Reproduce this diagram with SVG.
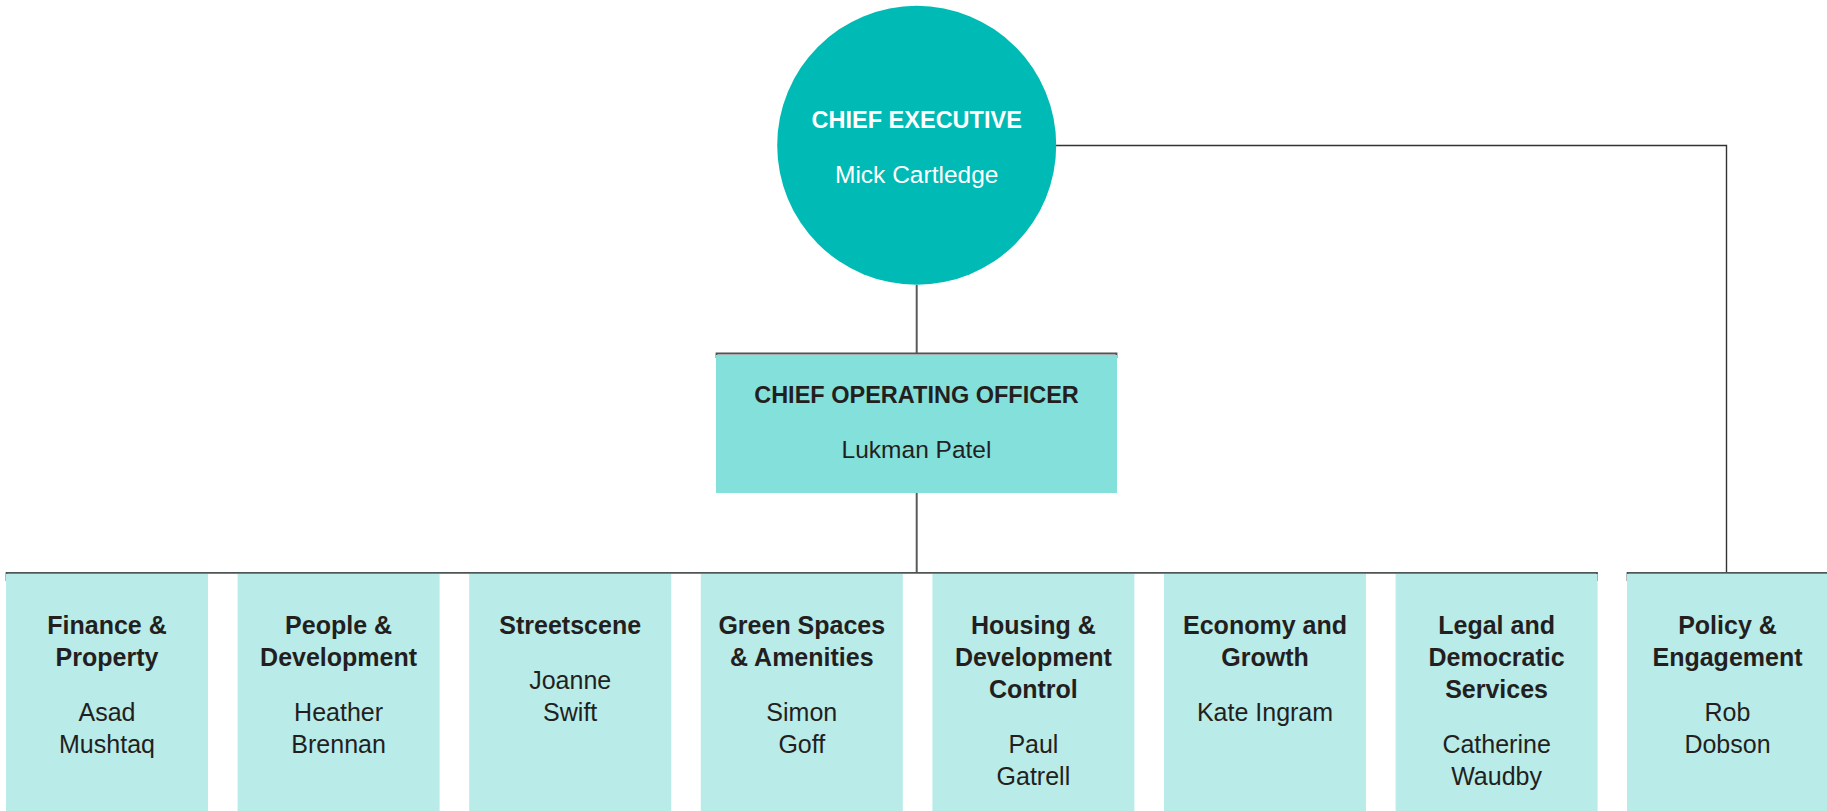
<svg xmlns="http://www.w3.org/2000/svg" width="1827" height="811" viewBox="0 0 1827 811">
<style>
.t{font-family:"Liberation Sans",Arial,sans-serif;text-anchor:middle;fill:#231f20}
.b{font-weight:bold;font-size:25px}
.n{font-size:25px}
.cap{font-weight:bold;font-size:23.5px}
.w{fill:#ffffff}
.box{fill:#b9ebe8}
.ln{fill:none;stroke:#5a5a5a;stroke-width:2}
.thin{fill:none;stroke:#333333;stroke-width:1.4}
.br{fill:none;stroke:#4d5555;stroke-width:1.8}
</style>
<g id="connectors">
<line class="ln" x1="916.7" y1="285" x2="916.7" y2="353"/>
<line class="ln" x1="916.7" y1="493" x2="916.7" y2="573"/>
<polyline class="thin" points="1056,145.5 1726.5,145.5 1726.5,573"/>
<polyline class="br" points="716.5,358 716.5,353.5 1116.5,353.5 1116.5,358"/>
<polyline class="br" points="6.5,581 6.5,572.8 1597,572.8 1597,581"/>
<polyline class="br" points="1627.5,581 1627.5,572.8 1827,572.8"/>
</g>
<g id="chief-executive">
<circle cx="916.7" cy="145.3" r="139.5" fill="#00bab5"/>
<text class="t cap w" x="916.7" y="127.7">CHIEF EXECUTIVE</text>
<text class="t n w" x="916.7" y="182.7" style="font-size:24.5px">Mick Cartledge</text>
</g>
<g id="coo">
<rect x="716" y="355" width="401" height="138" fill="#84e0db"/>
<text class="t cap" x="916.5" y="403">CHIEF OPERATING OFFICER</text>
<text class="t n" x="916.5" y="458" style="font-size:24.5px">Lukman Patel</text>
</g>
<g id="finance">
<rect class="box" x="6" y="574" width="202" height="237"/>
<text class="t b" x="107" y="634">Finance &amp;</text>
<text class="t b" x="107" y="666">Property</text>
<text class="t n" x="107" y="721">Asad</text>
<text class="t n" x="107" y="753">Mushtaq</text>
</g>
<g id="people">
<rect class="box" x="237.6" y="574" width="202" height="237"/>
<text class="t b" x="338.6" y="634">People &amp;</text>
<text class="t b" x="338.6" y="666">Development</text>
<text class="t n" x="338.6" y="721">Heather</text>
<text class="t n" x="338.6" y="753">Brennan</text>
</g>
<g id="streetscene">
<rect class="box" x="469.2" y="574" width="202" height="237"/>
<text class="t b" x="570.2" y="634">Streetscene</text>
<text class="t n" x="570.2" y="689">Joanne</text>
<text class="t n" x="570.2" y="721">Swift</text>
</g>
<g id="green-spaces">
<rect class="box" x="700.8" y="574" width="202" height="237"/>
<text class="t b" x="801.8" y="634">Green Spaces</text>
<text class="t b" x="801.8" y="666">&amp; Amenities</text>
<text class="t n" x="801.8" y="721">Simon</text>
<text class="t n" x="801.8" y="753">Goff</text>
</g>
<g id="housing">
<rect class="box" x="932.4" y="574" width="202" height="237"/>
<text class="t b" x="1033.4" y="634">Housing &amp;</text>
<text class="t b" x="1033.4" y="666">Development</text>
<text class="t b" x="1033.4" y="698">Control</text>
<text class="t n" x="1033.4" y="753">Paul</text>
<text class="t n" x="1033.4" y="785">Gatrell</text>
</g>
<g id="economy">
<rect class="box" x="1164" y="574" width="202" height="237"/>
<text class="t b" x="1265" y="634">Economy and</text>
<text class="t b" x="1265" y="666">Growth</text>
<text class="t n" x="1265" y="721">Kate Ingram</text>
</g>
<g id="legal">
<rect class="box" x="1395.6" y="574" width="202" height="237"/>
<text class="t b" x="1496.6" y="634">Legal and</text>
<text class="t b" x="1496.6" y="666">Democratic</text>
<text class="t b" x="1496.6" y="698">Services</text>
<text class="t n" x="1496.6" y="753">Catherine</text>
<text class="t n" x="1496.6" y="785">Waudby</text>
</g>
<g id="policy">
<rect class="box" x="1627" y="574" width="200" height="237"/>
<text class="t b" x="1727.5" y="634">Policy &amp;</text>
<text class="t b" x="1727.5" y="666">Engagement</text>
<text class="t n" x="1727.5" y="721">Rob</text>
<text class="t n" x="1727.5" y="753">Dobson</text>
</g>
</svg>
